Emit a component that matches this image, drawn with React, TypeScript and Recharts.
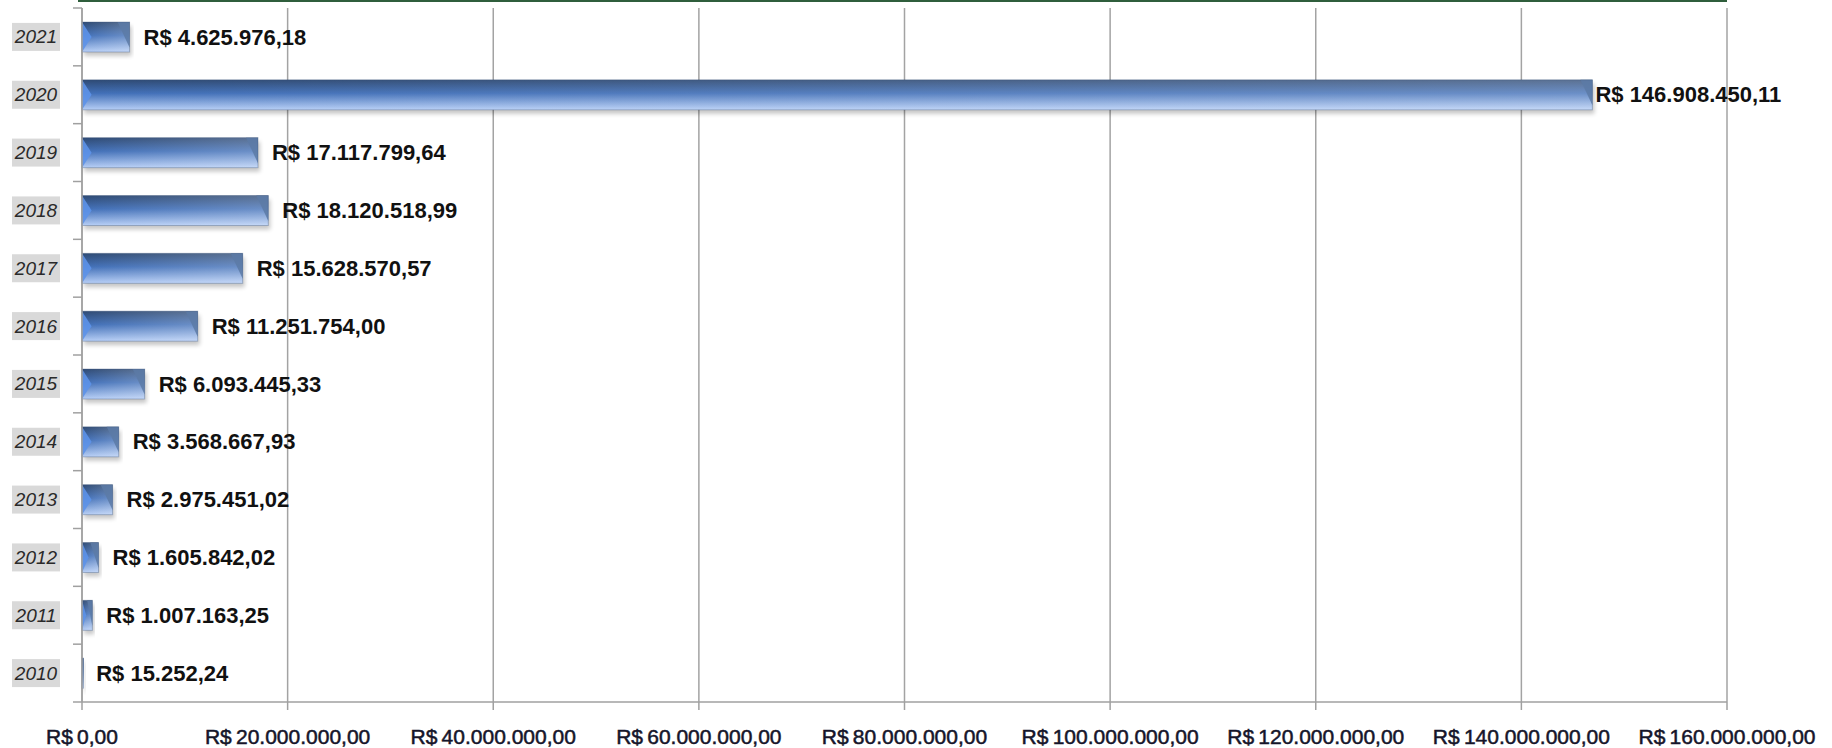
import React from "react";
import {
  BarChart,
  Bar,
  XAxis,
  YAxis,
  CartesianGrid,
  LabelList,
} from "recharts";

const years = ["2021", "2020", "2019", "2018", "2017", "2016", "2015", "2014", "2013", "2012", "2011", "2010"];
const amounts = [
  4625976.18, 146908450.11, 17117799.64, 18120518.99, 15628570.57, 11251754.0,
  6093445.33, 3568667.93, 2975451.02, 1605842.02, 1007163.25, 15252.24,
];
const xTicks = [0, 20000000, 40000000, 60000000, 80000000, 100000000, 120000000, 140000000, 160000000];

const data = years.map((year, i) => ({ year, value: amounts[i] }));

const W = 1832;
const H = 748;
const TOP = 8;
const BOTTOM = 702;
const LEFT = 82;
const RIGHT = 1727;
const BAND = (BOTTOM - TOP) / years.length;

function brl(v: number) {
  const [int, dec] = v.toFixed(2).split(".");
  const withDots = int.replace(/\B(?=(\d{3})+(?!\d))/g, ".");
  return `R$ ${withDots},${dec}`;
}

function BevelBar(props: any) {
  const { x, y, width, height } = props;
  const w = Math.max(width, 1.5);
  const b = Math.min(12, w / 2);
  return (
    <g>
      <defs>
        <linearGradient id="barFill" x1="0" y1="0" x2="0" y2="1">
          <stop offset="0%" stopColor="#2e4a74" />
          <stop offset="45%" stopColor="#4270b8" />
          <stop offset="100%" stopColor="#b6cef6" />
        </linearGradient>
        <linearGradient id="barSheen" x1="0" y1="0" x2="1" y2="0">
          <stop offset="0%" stopColor="#ffffff" stopOpacity={0} />
          <stop offset="100%" stopColor="#ffffff" stopOpacity={0.22} />
        </linearGradient>
        <filter id="barShadow" x="-5%" y="-30%" width="110%" height="160%">
          <feGaussianBlur stdDeviation="2" />
        </filter>
      </defs>
      <rect x={x + 2} y={y + 4} width={w} height={height} fill="#000" opacity={0.22} filter="url(#barShadow)" />
      <rect x={x} y={y} width={w} height={height} fill="url(#barFill)" />
      <rect x={x} y={y} width={w} height={height} fill="url(#barSheen)" />
      <polygon
        points={`${x},${y} ${x + b * 0.8},${y + height / 2} ${x},${y + height}`}
        fill="#5d92e8"
        opacity={0.9}
      />
      <polygon
        points={`${x + w - b},${y} ${x + w},${y} ${x + w},${y + height * 0.85}`}
        fill="#5c7aa6"
        opacity={0.85}
      />
      <rect x={x} y={y} width={w} height={height} fill="none" stroke="#3a5478" strokeOpacity={0.35} strokeWidth={1} />
    </g>
  );
}

function ValueLabel(props: any) {
  const { x, y, width, height, value } = props;
  const gap = width > 1000 ? 3 : 14;
  return (
    <text
      x={x + width + gap}
      y={y + height / 2}
      dominantBaseline="central"
      fontFamily="Liberation Sans, Arial, sans-serif"
      fontSize={22}
      fontWeight="bold"
      fill="#111"
    >
      {brl(value)}
    </text>
  );
}

function YearTick(props: any) {
  const { y, payload, index } = props;
  return (
    <g>
      <rect x={12} y={y - 14} width={48} height={28} fill="#d9d9d9" />
      <text
        x={36}
        y={y}
        textAnchor="middle"
        dominantBaseline="central"
        fontFamily="Liberation Sans, Arial, sans-serif"
        fontStyle="italic"
        fontSize={19}
        fill="#2a2a2a"
      >
        {payload.value}
      </text>
      <line x1={73} x2={LEFT} y1={y - BAND / 2} y2={y - BAND / 2} stroke="#a0a0a0" strokeWidth={1.5} />
      {index === years.length - 1 && (
        <line x1={73} x2={LEFT} y1={y + BAND / 2} y2={y + BAND / 2} stroke="#a0a0a0" strokeWidth={1.5} />
      )}
    </g>
  );
}

function MoneyTick(props: any) {
  const { x, y, payload } = props;
  return (
    <text
      x={x}
      y={y}
      textAnchor="middle"
      fontFamily="Liberation Sans, Arial, sans-serif"
      fontSize={21}
      fill="#15152a"
      stroke="#15152a"
      strokeWidth={0.5}
    >
      {brl(payload.value).replace(/^R\$ /, "R$\u2009")}
    </text>
  );
}

export default function App() {
  return (
    <div style={{ position: "relative", width: W, height: H, background: "#fff" }}>
      <style>{`body{margin:0}`}</style>
      <div
        style={{
          position: "absolute",
          top: 0,
          left: 78,
          width: RIGHT - 78,
          height: 2,
          background: "#2f5e3c",
        }}
      />
      <BarChart
        width={W}
        height={H}
        data={data}
        layout="vertical"
        margin={{ top: TOP, right: W - RIGHT, bottom: 0, left: 0 }}
      >
        <CartesianGrid horizontal={false} stroke="#a3a3a3" strokeWidth={1.5} />
        <XAxis
          type="number"
          domain={[0, 160000000]}
          ticks={xTicks}
          height={H - BOTTOM}
          tickSize={8}
          tickMargin={34}
          stroke="#a0a0a0"
          strokeWidth={1.5}
          tick={<MoneyTick />}
          interval={0}
        />
        <YAxis
          type="category"
          dataKey="year"
          width={LEFT}
          tickLine={false}
          stroke="#a0a0a0"
          strokeWidth={1.5}
          tick={<YearTick />}
          interval={0}
        />
        <Bar dataKey="value" barSize={30} shape={<BevelBar />} isAnimationActive={false}>
          <LabelList dataKey="value" content={<ValueLabel />} />
        </Bar>
      </BarChart>
    </div>
  );
}
